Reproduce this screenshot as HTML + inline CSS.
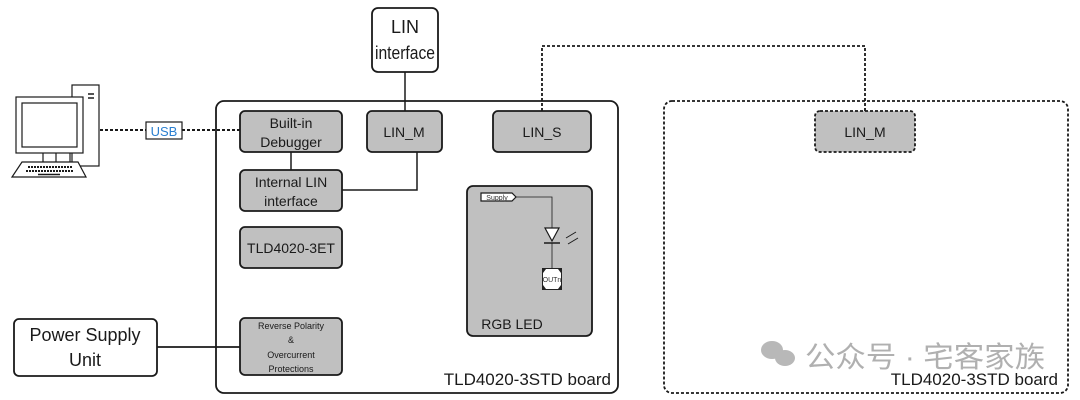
<!DOCTYPE html>
<html><head><style>
html,body{margin:0;padding:0;background:#fff;}
svg{display:block;font-family:"Liberation Sans","Noto Sans CJK SC",sans-serif;}
</style></head><body>
<svg width="1080" height="400" viewBox="0 0 1080 400" xmlns="http://www.w3.org/2000/svg">
<g fill="none" stroke="#1a1a1a">
<line x1="405" y1="72" x2="405" y2="111" stroke-width="1.5"/>
<line x1="291" y1="152" x2="291" y2="170" stroke-width="1.5"/>
<polyline points="342,190 417,190 417,152" stroke-width="1.5"/>
<line x1="157" y1="347" x2="240" y2="347" stroke-width="1.8"/>
<line x1="100" y1="130" x2="146" y2="130" stroke-width="2" stroke-dasharray="3,2"/>
<line x1="182" y1="130" x2="240" y2="130" stroke-width="2" stroke-dasharray="3,2"/>
<polyline points="542,111 542,46 865,46 865,111" stroke-width="1.8" stroke-dasharray="3,2"/>
<rect x="216" y="101" width="402" height="292" rx="8" stroke-width="1.8"/>
<rect x="664" y="101" width="404" height="292" rx="8" stroke-width="1.8" stroke-dasharray="3,2"/>
<rect x="372" y="8" width="66" height="64" rx="6" fill="#fff" stroke-width="1.8"/>
<rect x="14" y="319" width="143" height="57" rx="5" fill="#fff" stroke-width="1.8"/>
<rect x="146" y="122" width="36" height="17" fill="#fff" stroke-width="1.2"/>
</g>
<g fill="#c0c0c0" stroke="#1a1a1a" stroke-width="1.8">
<rect x="240" y="111" width="102" height="41" rx="5"/>
<rect x="367" y="111" width="75" height="41" rx="5"/>
<rect x="493" y="111" width="98" height="41" rx="5"/>
<rect x="240" y="170" width="102" height="41" rx="5"/>
<rect x="240" y="227" width="102" height="41" rx="5"/>
<rect x="240" y="318" width="102" height="57" rx="5"/>
<rect x="467" y="186" width="125" height="150" rx="6"/>
<rect x="815" y="111" width="100" height="41" rx="5" stroke-dasharray="3,2"/>
</g>
<g stroke="#1a1a1a" fill="none">
<polygon points="481,193 512,193 516,197 512,201 481,201" fill="#fff" stroke-width="1.2"/>
<polyline points="516,197 552,197 552,228" stroke-width="0.8"/>
<polygon points="545,228 559,228 552,241" fill="#fff" stroke-width="1.2"/>
<line x1="544" y1="243" x2="560" y2="243" stroke-width="1.5"/>
<line x1="552" y1="243" x2="552" y2="268" stroke-width="0.8"/>
<line x1="566" y1="238" x2="576" y2="232" stroke-width="1"/>
<line x1="568" y1="244" x2="578" y2="238" stroke-width="1"/>
<rect x="542" y="268" width="20" height="22" fill="#222" stroke="none"/>
<polygon points="546,269 558,269 561,273 561,285 558,289 546,289 543,285 543,273" fill="#fff" stroke="none"/>
</g>
<text x="497" y="200" font-size="7" text-anchor="middle" fill="#333">Supply</text>
<text x="552" y="282" font-size="7" text-anchor="middle" fill="#333">OUTn</text>
<g stroke="#1a1a1a" fill="#fff" stroke-width="1.2">
<rect x="72" y="85" width="27" height="81"/>
<rect x="16" y="97" width="67" height="56"/>
<rect x="22" y="103" width="55" height="44"/>
<line x1="43" y1="153" x2="43" y2="162"/><line x1="56" y1="153" x2="56" y2="162"/><line x1="70" y1="153" x2="70" y2="162"/>
<polygon points="22,162 78,162 86,177 12,177"/>
<line x1="28" y1="167" x2="72" y2="167" stroke-dasharray="2,1" stroke-width="2"/>
<line x1="26" y1="171" x2="74" y2="171" stroke-dasharray="2,1" stroke-width="2"/>
<line x1="38" y1="174.5" x2="60" y2="174.5" stroke-width="1.5"/>
<line x1="88" y1="94" x2="94" y2="94" stroke-width="1.5"/><line x1="88" y1="98" x2="94" y2="98" stroke-width="1.5"/>
</g>
<g fill="#1a1a1a" text-anchor="middle">
<text x="405" y="33" font-size="18">LIN</text>
<text x="405" y="59" font-size="18" textLength="60" lengthAdjust="spacingAndGlyphs">interface</text>
<text x="164" y="136" font-size="13" fill="#2a7fd0">USB</text>
<text x="291" y="128" font-size="14">Built-in</text>
<text x="291" y="147" font-size="14">Debugger</text>
<text x="404" y="137" font-size="14">LIN_M</text>
<text x="542" y="137" font-size="14">LIN_S</text>
<text x="865" y="137" font-size="14">LIN_M</text>
<text x="291" y="187" font-size="14">Internal LIN</text>
<text x="291" y="206" font-size="14">interface</text>
<text x="291" y="253" font-size="14">TLD4020-3ET</text>
<text x="291" y="329" font-size="9">Reverse Polarity</text>
<text x="291" y="343" font-size="9">&amp;</text>
<text x="291" y="358" font-size="9">Overcurrent</text>
<text x="291" y="372" font-size="9">Protections</text>
<text x="85" y="341" font-size="18">Power Supply</text>
<text x="85" y="366" font-size="18">Unit</text>
<text x="512" y="329" font-size="14">RGB LED</text>
<text x="611" y="385" font-size="17" text-anchor="end">TLD4020-3STD board</text>
</g>
<g fill="#b8b8b8">
<ellipse cx="772" cy="350" rx="11" ry="9"/>
<ellipse cx="785" cy="358" rx="10" ry="8"/>
<text x="805" y="367" font-size="29" fill="#b0b0b0" textLength="240" lengthAdjust="spacingAndGlyphs">公众号 · 宅客家族</text>
</g>
<text x="1058" y="385" font-size="17" text-anchor="end" fill="#1a1a1a">TLD4020-3STD board</text>
</svg>
</body></html>
